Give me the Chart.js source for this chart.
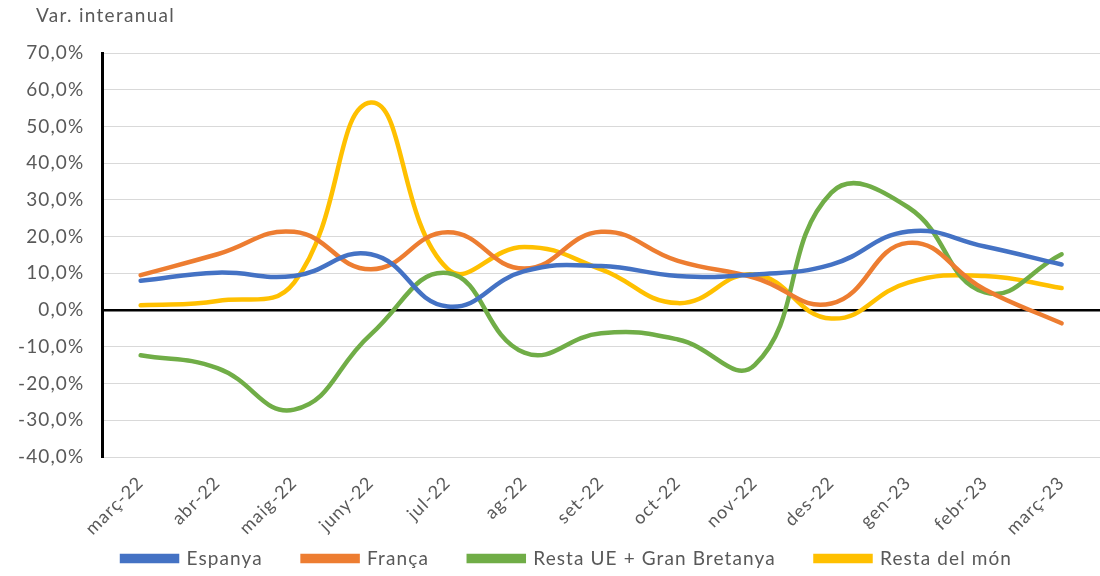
<!DOCTYPE html>
<html>
<head>
<meta charset="utf-8">
<script src="https://cdn.jsdelivr.net/npm/chart.js@4"></script>
<style>
  body { margin: 0; background: #fff; }
  #wrap { position: relative; width: 1100px; height: 576px; }
  #ytitle { position: absolute; left: 36px; top: 3px; font: 19px Lato, sans-serif; color: #595959; letter-spacing: 1.3px; }
</style>
</head>
<body>
<div id="wrap">
  <div id="ytitle">Var. interanual</div>
  <canvas id="lineChart"></canvas>
</div>
<script>
const labels = ["març-22", "abr-22", "maig-22", "juny-22", "jul-22", "ag-22", "set-22",
  "oct-22", "nov-22", "des-22", "gen-23", "febr-23", "març-23"];
const espanya = [8.0, 10.2, 9.3, 15.2, 1.0, 10.6, 12.0, 9.3, 9.7, 12.4, 21.4, 17.3, 12.4];
const franca = [9.5, 15.2, 21.3, 11.1, 21.2, 11.3, 21.3, 13.4, 8.8, 1.8, 18.3, 5.6, -3.6];
const restaUE = [-12.3, -15.8, -27.1, -6.6, 10.1, -11.6, -6.3, -8.0, -15.0, 32.0, 28.0, 4.8, 15.2];
const restaMon = [1.3, 2.5, 7.5, 56.5, 11.2, 17.2, 11.1, 1.9, 9.7, -2.3, 7.5, 9.3, 6.0];

const grey = "#595959";
const font = "Lato, sans-serif";

function series(label, data, color) {
  return {
    label: label,
    data: data,
    borderColor: color,
    backgroundColor: color,
    borderWidth: 4.5,
    pointRadius: 0,
    tension: 0.45,
    borderCapStyle: "round",
    fill: false,
  };
}

// Excel-like wide text spacing, and legend nudged right like the original
const tweaks = {
  id: "tweaks",
  beforeLayout(chart) { chart.ctx.letterSpacing = "1.1px"; },
  afterLayout(chart) {
    chart.legend.left += 17;
    chart.legend.right += 17;
  },
  beforeDraw(chart) { chart.ctx.letterSpacing = "1.1px"; },
};

const ctx = document.getElementById("lineChart").getContext("2d");
new Chart(ctx, {
  type: "line",
  data: {
    labels: labels,
    datasets: [
      series("Espanya", espanya, "#4472c4"),
      series("França", franca, "#ed7d31"),
      series("Resta UE + Gran Bretanya", restaUE, "#70ad47"),
      series("Resta del món", restaMon, "#ffc000"),
    ],
  },
  plugins: [tweaks],
  options: {
    responsive: true,
    maintainAspectRatio: false,
    animation: false,
    layout: { padding: { left: 0, right: 0, top: 53, bottom: -2 } },
    plugins: {
      tooltip: { enabled: false },
      legend: {
        position: "bottom",
        labels: {
          boxWidth: 55,
          boxHeight: 5,
          padding: 10,
          color: grey,
          font: { family: font, size: 19 },
          generateLabels(chart) {
            const items = Chart.defaults.plugins.legend.labels.generateLabels(chart);
            items.forEach((it, i) => {
              if (i < items.length - 1) it.text += "     ";
            });
            return items;
          },
        },
      },
    },
    scales: {
      x: {
        offset: true,
        grid: { display: false, drawTicks: false },
        border: { color: "#d9d9d9", width: 1 },
        afterFit(scale) { scale.height = 82; },
        ticks: {
          minRotation: 45,
          maxRotation: 45,
          color: grey,
          padding: 15,
          font: { family: font, size: 18 },
        },
      },
      y: {
        min: -40,
        max: 70,
        grid: {
          drawTicks: false,
          color: (c) => (c.tick && c.tick.value === 0 ? "#000" : "#d9d9d9"),
          lineWidth: (c) => (c.tick && c.tick.value === 0 ? 2.5 : 1),
        },
        border: { color: "#000", width: 3 },
        ticks: {
          stepSize: 10,
          color: grey,
          padding: 18,
          font: { family: font, size: 19 },
          callback: (v) => v.toFixed(1).replace(".", ",") + "%",
        },
      },
    },
  },
});
</script>
</body>
</html>
